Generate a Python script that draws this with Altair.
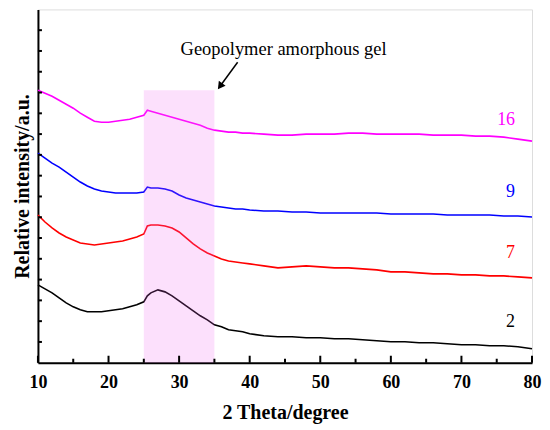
import altair as alt
import pandas as pd

# 2-theta grid (degrees) at which values were read
theta = [10, 11, 12, 13, 14, 15, 16, 17, 18, 19, 20, 21, 22, 23, 24, 25, 25.5,
         26, 27, 28, 29, 30, 31, 32, 33, 34, 35, 36, 37, 38, 39, 40,
         42, 44, 46, 48, 50, 52, 54, 56, 58, 60, 62, 64, 66, 68, 70, 72, 74, 76, 78, 80]

# relative intensity (a.u., offset traces)
s16 = [273, 270, 267, 263, 259, 255, 250, 246, 242, 241, 241, 242, 243, 244, 246, 248, 253,
       252, 250, 248, 246, 244, 242, 240, 238, 235, 233, 232, 231, 231, 230, 230,
       229, 228, 228, 229, 229, 229, 230, 230, 229, 229, 229, 229, 228, 228, 228, 227, 227, 226, 224, 222]
s9 = [210, 205, 200, 196, 191, 186, 181, 177, 174, 172, 171, 170, 170, 170, 170, 171, 176,
      175, 175, 174, 172, 168, 165, 163, 161, 159, 157, 156, 155, 154, 154, 153,
      152, 152, 151, 151, 150, 150, 150, 150, 150, 149, 149, 149, 149, 148, 148, 148, 148, 147, 147, 146]
s7 = [148, 141, 135, 130, 126, 123, 120, 119, 118, 119, 120, 121, 122, 124, 126, 129, 137,
      138, 138, 137, 135, 131, 125, 119, 114, 110, 107, 104, 102, 101, 100, 99,
      97, 95, 96, 97, 96, 95, 95, 94, 93, 91, 91, 90, 89, 89, 88, 88, 87, 87, 86, 85]
s2 = [78, 74, 70, 65, 60, 56, 53, 51, 51, 51, 52, 53, 54, 56, 58, 61, 67,
      70, 73, 71, 67, 62, 57, 52, 47, 43, 38, 36, 33, 32, 31, 29,
      27, 26, 26, 25, 25, 24, 24, 23, 22, 21, 21, 20, 20, 19, 18, 18, 17, 17, 16, 14]

series_names = ["16", "9", "7", "2"]
series_colors = ["#ff00ff", "#0000ff", "#ff0000", "#000000"]
label_y = [243, 171, 110, 41]

x_major = [10, 20, 30, 40, 50, 60, 70, 80]
x_minor = [15, 25, 35, 45, 55, 65, 75]
y_top = 354
y_ticks = [i * y_top / 17 for i in range(1, 17)]

FONT = "Liberation Serif, Times New Roman, serif"
W, H = 495, 354

rows = []
for name, vals in zip(series_names, [s16, s9, s7, s2]):
    for t, v in zip(theta, vals):
        rows.append({"theta": t, "I": v, "sample": name})
df = pd.DataFrame(rows)

xs = alt.Scale(domain=[10, 80], nice=False, zero=False)
ys = alt.Scale(domain=[0, y_top], nice=False, zero=False)

lines = alt.Chart(df).mark_line(strokeWidth=1.6).encode(
    x=alt.X("theta:Q", scale=xs,
            axis=alt.Axis(values=x_major, title="2 Theta/degree", grid=False, ticks=False,
                          labelFlush=False, labelPadding=11, titlePadding=11,
                          domainWidth=2, domainColor="black",
                          labelFont=FONT, labelFontSize=18, labelFontWeight="bold", labelColor="black",
                          titleFont=FONT, titleFontSize=20, titleFontWeight="bold", titleColor="black")),
    y=alt.Y("I:Q", scale=ys,
            axis=alt.Axis(labels=False, ticks=False, grid=False, title="Relative intensity/a.u.",
                          titlePadding=5, domainWidth=2, domainColor="black",
                          titleFont=FONT, titleFontSize=20, titleFontWeight="bold", titleColor="black")),
    color=alt.Color("sample:N", scale=alt.Scale(domain=series_names, range=series_colors), legend=None),
    detail="sample:N",
)

band = alt.Chart(pd.DataFrame({"x1": [25], "x2": [35], "y1": [0], "y2": [273]})).mark_rect(
    color="#ee66ee", opacity=0.2
).encode(x="x1:Q", x2="x2:Q", y="y1:Q", y2="y2:Q")

xmaj = alt.Chart(pd.DataFrame({"t": x_major})).mark_rule(color="black", strokeWidth=2).encode(
    x="t:Q", y=alt.value(H), y2=alt.value(H - 7))
xmin = alt.Chart(pd.DataFrame({"t": x_minor})).mark_rule(color="black", strokeWidth=2).encode(
    x="t:Q", y=alt.value(H), y2=alt.value(H - 4))
ytk = alt.Chart(pd.DataFrame({"t": y_ticks})).mark_rule(color="black", strokeWidth=2).encode(
    y="t:Q", x=alt.value(0), x2=alt.value(4))

labels = alt.Chart(pd.DataFrame({"x": [77.6] * 4, "y": label_y, "s": series_names})).mark_text(
    font=FONT, fontSize=18, align="right", baseline="middle"
).encode(x="x:Q", y="y:Q", text="s:N",
         color=alt.Color("s:N", scale=alt.Scale(domain=series_names, range=series_colors), legend=None))

note = alt.Chart(pd.DataFrame({"x": [44.8], "y": [308], "s": ["Geopolymer amorphous gel"]})).mark_text(
    font=FONT, fontSize=18.5, align="center", baseline="alphabetic", color="black"
).encode(x="x:Q", y="y:Q", text="s:N")

arrow_line = alt.Chart(pd.DataFrame({"x": [38.29, 35.80], "y": [301, 277]})).mark_line(
    color="black", strokeWidth=1.5).encode(x="x:Q", y="y:Q")
arrow_head = alt.Chart(pd.DataFrame({"x": [35.80], "y": [277]})).mark_point(
    shape="triangle-up", filled=True, color="black", size=70, angle=216.5, opacity=1
).encode(x="x:Q", y="y:Q")

chart = alt.layer(lines, band, xmaj, xmin, ytk, labels, note, arrow_line, arrow_head).properties(
    width=W, height=H,
    autosize=alt.AutoSizeParams(type="none"),
    padding={"left": 30, "top": 1, "right": 10, "bottom": 66},
).configure_view(stroke="black", strokeWidth=1.5).configure(background="white")

chart.save("out.html", embed_options={"renderer": "svg", "actions": False})
